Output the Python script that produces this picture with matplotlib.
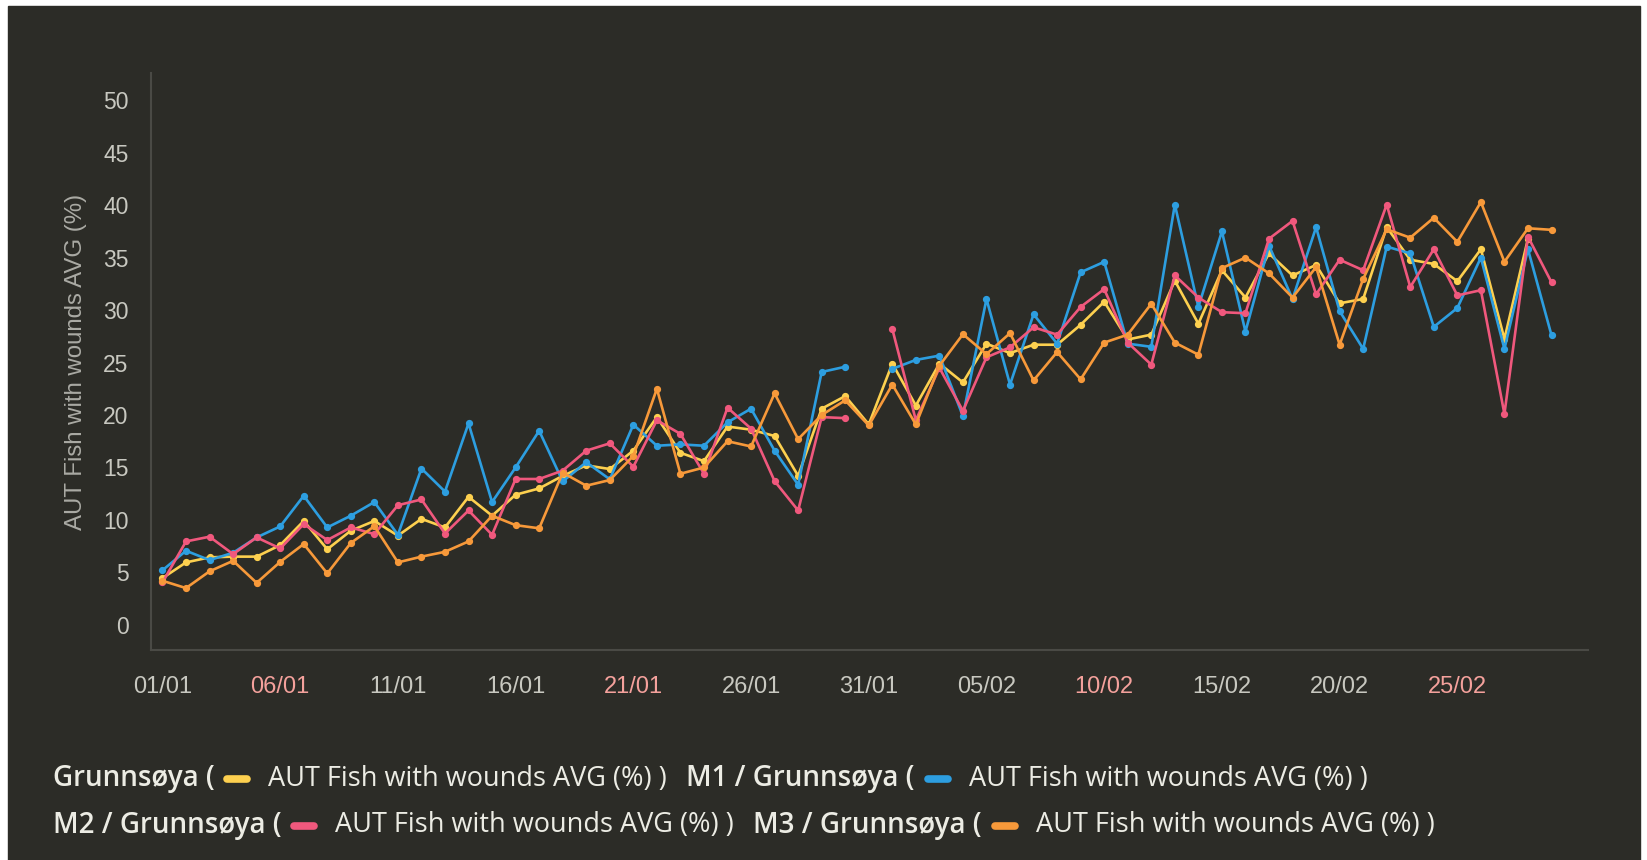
import matplotlib
matplotlib.use('Agg')
import matplotlib.pyplot as plt
import numpy as np
import pandas as pd
from matplotlib.lines import Line2D
from matplotlib.patches import Rectangle

nan = np.nan

# daily values 01/01 - 01/03
dates = pd.date_range('2019-01-01', periods=60, freq='D')

grunnsoya = [4.45, 5.95, 6.43, 6.5, 6.5, 7.6, 9.9, 7.2, 8.97, 9.9,
             8.5, 10.1, 9.28, 12.2, 10.4, 12.4, 13.0, 14.2, 15.2, 14.85,
             16.6, 19.8, 16.4, 15.6, 18.9, 18.6, 18.0, 14.2, 20.6, 21.8,
             19.1, 24.9, 20.9, 24.9, 23.1, 26.8, 25.9, 26.7, 26.7, 28.6,
             30.8, 27.2, 27.66, 32.8, 28.7, 33.8, 31.2, 35.4, 33.3, 34.3,
             30.65, 31.06, 37.9, 34.8, 34.4, 32.75, 35.8, 27.25, 36.8, nan]

m1 = [5.2, 7.06, 6.17, 6.87, 8.33, 9.38, 12.3, 9.28, 10.4, 11.7,
      8.58, 14.9, 12.7, 19.2, 11.7, 15.0, 18.5, 13.67, 15.5, 13.87,
      19.08, 17.07, 17.2, 17.07, 19.3, 20.6, 16.6, 13.35, 24.1, 24.6,
      nan, 24.4, 25.25, 25.66, 19.9, 31.06, 22.9, 29.6, 26.8, 33.6,
      34.6, 26.8, 26.5, 40.06, 30.3, 37.5, 27.95, 36.15, 31.06, 37.9,
      29.9, 26.3, 36.05, 35.4, 28.4, 30.2, 35.0, 26.3, 35.8, 27.6]

m2 = [4.04, 7.95, 8.4, 6.74, 8.33, 7.28, 9.6, 8.08, 9.28, 8.65,
      11.4, 11.95, 8.7, 10.9, 8.58, 13.9, 13.9, 14.7, 16.6, 17.3,
      15.07, 19.5, 18.2, 14.4, 20.7, 18.7, 13.7, 10.9, 19.8, 19.7,
      nan, 28.2, 19.5, 24.5, 20.4, 25.5, 26.45, 28.36, 27.66, 30.3,
      32.0, 26.9, 24.8, 33.3, 31.2, 29.8, 29.7, 36.8, 38.5, 31.5,
      34.8, 33.8, 40.06, 32.2, 35.8, 31.4, 31.9, 20.1, 37.0, 32.65]

m3 = [4.2, 3.5, 5.1, 6.1, 4.0, 6.0, 7.7, 4.9, 7.8, 9.4,
      5.95, 6.5, 6.96, 7.95, 10.4, 9.5, 9.2, 14.5, 13.26, 13.8,
      16.1, 22.5, 14.4, 15.0, 17.5, 17.0, 22.06, 17.7, 20.0, 21.4,
      19.0, 22.9, 19.1, 24.7, 27.7, 25.8, 27.8, 23.3, 26.0, 23.4,
      26.9, 27.66, 30.6, 26.9, 25.75, 34.0, 35.0, 33.5, 31.2, 34.1,
      26.7, 32.97, 37.7, 36.9, 38.8, 36.5, 40.3, 34.6, 37.8, 37.65]

names = ['Grunnsøya (', 'M1 / Grunnsøya (', 'M2 / Grunnsøya (', 'M3 / Grunnsøya (']
metric = 'AUT Fish with wounds AVG (%) )'
colors = ['#fdd04f', '#2d9ee0', '#f0587d', '#f7993a']
pink_ticks = ['06/01', '21/01', '10/02', '25/02']

BG = '#2c2c27'
W, H = 1647, 860

fig = plt.figure(figsize=(W / 100, H / 100), dpi=100, facecolor='white')
fig.patches.append(Rectangle((8.4 / W, 0), (1640 - 8.4) / W, (H - 6.3) / H,
                             transform=fig.transFigure, color=BG, zorder=-5))

ax = fig.add_axes([150.7 / W, (H - 650) / H, (1588 - 150.7) / W, (650 - 73) / H])
ax.set_facecolor(BG)

x = np.arange(len(dates))
for vals, c in zip([grunnsoya, m1, m2, m3], colors):
    ax.plot(x, vals, color=c, lw=1.9, marker='o', ms=4.2)

ax.set_xlim(-0.5, 60.55)
ax.set_ylim(-2.4, 52.6)
ax.set_yticks(np.arange(0, 51, 5))
ticks = x[::5][:12]
ax.set_xticks(ticks)
ax.set_xticklabels([d.strftime('%d/%m') for d in dates[ticks]])

for s in ['top', 'right']:
    ax.spines[s].set_visible(False)
for s in ['left', 'bottom']:
    ax.spines[s].set_color('#4a4a45')
    ax.spines[s].set_linewidth(1.5)

ax.tick_params(length=0, labelsize=16.5, colors='#c8c8c0')
ax.tick_params(axis='x', labelsize=17)
ax.tick_params(axis='y', pad=16)
ax.tick_params(axis='x', pad=19)
for lab in ax.get_xticklabels() + ax.get_yticklabels():
    lab.set_family('Liberation Sans')
for lab in ax.get_xticklabels():
    if lab.get_text() in pink_ticks:
        lab.set_color('#f4a19c')

ax.set_ylabel('AUT Fish with wounds AVG (%)', fontsize=17.3, color='#aaaaa4',
              family='Liberation Sans')
ax.yaxis.set_label_coords(-0.0445, 0.5)

# legend built by hand, two rows
renderer = fig.canvas.get_renderer()


def put(xp, yp, s, weight, size):
    t = fig.text(xp / W, 1 - yp / H, s, ha='left', va='center', fontsize=size,
                 weight=weight, color='#ececE4', family='Open Sans')
    bb = t.get_window_extent(renderer)
    return bb.x1


rows = [(778.5, [0, 1]), (825.5, [2, 3])]
for yp, ids in rows:
    xp = 52.5
    for i in ids:
        xp = put(xp, yp, names[i], 'semibold', 20) + 9
        fig.add_artist(Line2D([(xp + 4) / W, (xp + 24) / W], [1 - yp / H, 1 - yp / H],
                              transform=fig.transFigure, lw=5.5, color=colors[i],
                              solid_capstyle='round'))
        xp = put(xp + 45, yp, metric, 'normal', 19.5) + 19

fig.savefig('out.png', dpi=100, facecolor='white')
